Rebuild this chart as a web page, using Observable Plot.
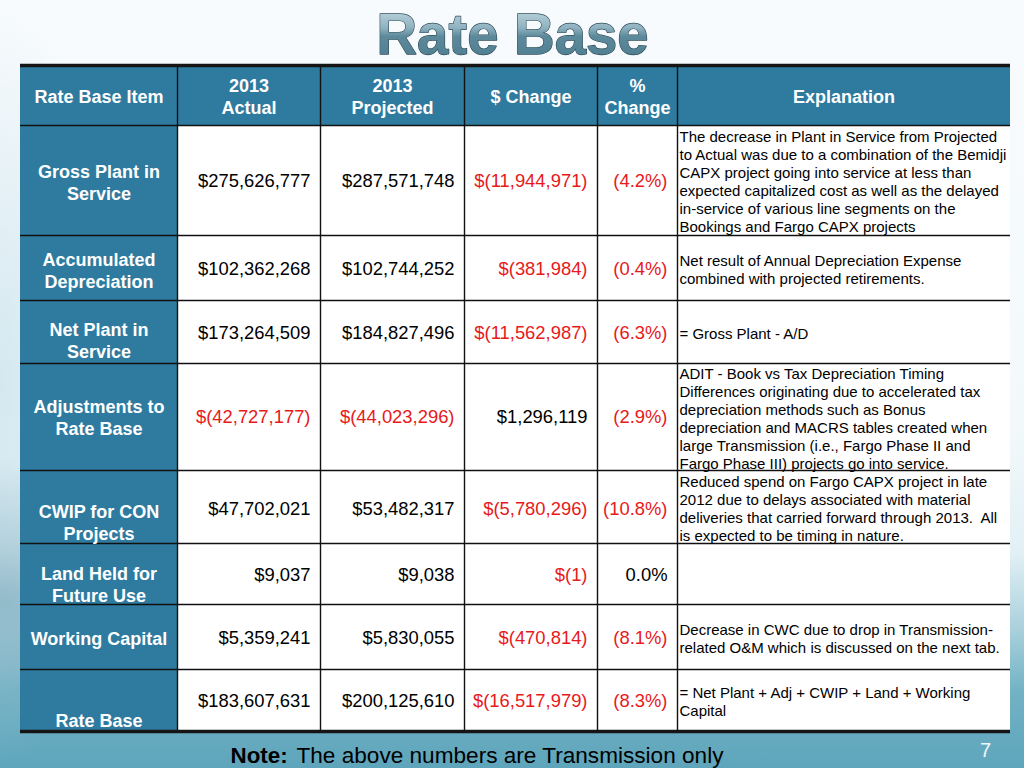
<!DOCTYPE html>
<html>
<head>
<meta charset="utf-8">
<script src="https://cdn.jsdelivr.net/npm/d3@7"></script>
<script src="https://cdn.jsdelivr.net/npm/@observablehq/plot@0.6"></script>
<style>
  html, body { margin: 0; padding: 0; }
  #slide {
    position: relative; width: 1024px; height: 768px; overflow: hidden;
    background:
      radial-gradient(ellipse 260px 140px at 0% 78%, rgba(110,160,180,0.55), rgba(110,160,180,0) 100%),
      radial-gradient(ellipse 120px 380px at 0% 50%, rgba(190,220,232,0.6), rgba(190,220,232,0) 100%),
      linear-gradient(to bottom, #f8fbfd 0%, #f3f9fb 55%, #e2f0f5 72%, #a9d0dc 82%, #72b2c5 90%, #5ea5bb 100%);
  }
  #slide svg { position: absolute; left: 0; top: 0; }
</style>
</head>
<body>
<div id="slide"></div>
<script>
// ---------- data ----------
const title = "Rate Base";
const headers = ["Rate Base Item", "2013\nActual", "2013\nProjected", "$ Change", "%\nChange", "Explanation"];
const items = ["Gross Plant in\nService", "Accumulated\nDepreciation", "Net Plant in\nService", "Adjustments to\nRate Base",
               "CWIP for CON\nProjects", "Land Held for\nFuture Use", "Working Capital", "Rate Base"];
const actual    = [275626777, 102362268, 173264509, -42727177, 47702021, 9037, 5359241, 183607631];
const projected = [287571748, 102744252, 184827496, -44023296, 53482317, 9038, 5830055, 200125610];
const change    = [-11944971, -381984, -11562987, 1296119, -5780296, -1, -470814, -16517979];
const pctChange = [-4.2, -0.4, -6.3, -2.9, -10.8, 0.0, -8.1, -8.3];
const explanations = [
  "The decrease in Plant in Service from Projected\nto Actual was due to a combination of the Bemidji\nCAPX project going into service at less than\nexpected capitalized cost as well as the delayed\nin-service of various line segments on the\nBookings and Fargo CAPX projects",
  "Net result of Annual Depreciation Expense\ncombined with projected retirements.",
  "= Gross Plant - A/D",
  "ADIT - Book vs Tax Depreciation Timing\nDifferences originating due to accelerated tax\ndepreciation methods such as Bonus\ndepreciation and MACRS tables created when\nlarge Transmission (i.e., Fargo Phase II and\nFargo Phase III) projects go into service.",
  "Reduced spend on Fargo CAPX project in late\n2012 due to delays associated with material\ndeliveries that carried forward through 2013.  All\nis expected to be timing in nature.",
  "",
  "Decrease in CWC due to drop in Transmission-\nrelated O&M which is discussed on the next tab.",
  "= Net Plant + Adj + CWIP + Land + Working\nCapital"
];
const noteLabel = "Note:";
const noteText = "The above numbers are Transmission only";
const pageNumber = "7";

// ---------- layout (positions in slide pixels) ----------
const colEdges = [20, 177, 320, 464, 597, 677, 1010];
const rowEdges = [65, 125, 235, 300, 363, 470, 543, 604, 669, 731];
const labelShift = [1, 1.5, 8, 0, 15, 10, 1, 19];
const valueShift = [1, 1.5, 1, 0, 2.5, 1.5, 1, 1];
const pad = 10;
const HEAD = "#2e7b9f", RED = "#e8191b", INK = "#111";

// ---------- derived tables ----------
const fmt = d3.format(",");
const money = v => v < 0 ? `$(${fmt(-v)})` : `$${fmt(v)}`;
const pct = v => v < 0 ? `(${(-v).toFixed(1)}%)` : `${v.toFixed(1)}%`;
const mid = r => (rowEdges[r] + rowEdges[r + 1]) / 2;

const headerCells = headers.map((h, c) => ({c, text: h}));
const rows = items.map((item, i) => ({i, r: i + 1, item, actual: actual[i], projected: projected[i],
  change: change[i], pct: pctChange[i], expl: explanations[i]}));
const bodyCells = rows.flatMap(d => d3.range(6).map(c => ({r: d.r, c})));

const valueCols = [
  {key: "actual", c: 1, f: money},
  {key: "projected", c: 2, f: money},
  {key: "change", c: 3, f: money},
  {key: "pct", c: 4, f: pct}
];
const values = rows.flatMap(d => valueCols.map(v => ({r: d.r, i: d.i, c: v.c, v: d[v.key], label: v.f(d[v.key])})));

const textBase = {fontFamily: "Liberation Sans, Arial, sans-serif"};

const chart = Plot.plot({
  width: 1024, height: 768, margin: 0,
  x: {domain: [0, 1024], range: [0, 1024], axis: null},
  y: {domain: [0, 768], range: [0, 768], axis: null},
  style: {background: "transparent", fontFamily: "Liberation Sans, Arial, sans-serif"},
  marks: [
    // cells
    Plot.rect(headerCells, {x1: d => colEdges[d.c], x2: d => colEdges[d.c + 1], y1: rowEdges[0], y2: rowEdges[1], fill: HEAD}),
    Plot.rect(bodyCells.filter(d => d.c === 0), {x1: d => colEdges[d.c], x2: d => colEdges[d.c + 1], y1: d => rowEdges[d.r], y2: d => rowEdges[d.r + 1], fill: HEAD}),
    Plot.rect(bodyCells.filter(d => d.c > 0), {x1: d => colEdges[d.c], x2: d => colEdges[d.c + 1], y1: d => rowEdges[d.r], y2: d => rowEdges[d.r + 1], fill: "white"}),
    // grid lines
    Plot.ruleY(rowEdges.slice(1, -1), {x1: colEdges[0], x2: colEdges[6], stroke: INK, strokeWidth: 1.6}),
    Plot.ruleX(colEdges.slice(1, -1), {y1: rowEdges[0], y2: rowEdges[rowEdges.length - 1], stroke: INK, strokeWidth: 1.4}),
    Plot.ruleY([rowEdges[0], rowEdges[rowEdges.length - 1]], {x1: colEdges[0], x2: colEdges[6], stroke: "#151515", strokeWidth: 3.5}),
    // header text
    Plot.text(headerCells, {x: d => (colEdges[d.c] + colEdges[d.c + 1]) / 2, y: mid(0), text: "text",
      fill: "white", fontWeight: "bold", fontSize: 18, lineHeight: 1.22, ...textBase}),
    // row labels
    Plot.text(rows, {x: (colEdges[0] + colEdges[1]) / 2, y: d => mid(d.r) + labelShift[d.i], text: "item",
      fill: "white", fontWeight: "bold", fontSize: 18, lineHeight: 1.22, ...textBase}),
    // values
    Plot.text(values.filter(d => d.v < 0), {x: d => colEdges[d.c + 1] - pad, y: d => mid(d.r) + valueShift[d.i], text: "label",
      textAnchor: "end", fill: RED, fontSize: 18.4, ...textBase}),
    Plot.text(values.filter(d => d.v >= 0), {x: d => colEdges[d.c + 1] - pad, y: d => mid(d.r) + valueShift[d.i], text: "label",
      textAnchor: "end", fill: "black", fontSize: 18.4, ...textBase}),
    // explanations
    Plot.text(rows, {x: colEdges[5] + 2, y: d => mid(d.r) + 1, text: "expl", textAnchor: "start",
      fill: "black", fontSize: 15, lineHeight: 1.2, ...textBase}),
    // title
    Plot.text([title], {x: 512, y: 34.5, text: d => d, fontSize: 58, fontWeight: "bold",
      fill: "url(#titleGrad)", stroke: "#2f4c59", strokeWidth: 1.3, ...textBase}),
    // note
    Plot.text([noteLabel], {x: 230, y: 755, text: d => d, textAnchor: "start", fontWeight: "bold", fontSize: 22.4, fill: "black", ...textBase}),
    Plot.text([noteText], {x: 296, y: 755, text: d => d, textAnchor: "start", fontSize: 22.6, fill: "black", ...textBase}),
    Plot.text([pageNumber], {x: 985, y: 750, text: d => d, fontSize: 20, fill: "#eef7fa", ...textBase})
  ]
});

const svg = d3.select(chart);
svg.insert("defs", ":first-child").html(`
  <linearGradient id="titleGrad" x1="0" y1="0" x2="0" y2="1">
    <stop offset="0%" stop-color="#d2e5ec"/>
    <stop offset="42%" stop-color="#8fb2c0"/>
    <stop offset="55%" stop-color="#5d8a9b"/>
    <stop offset="100%" stop-color="#4a7a8d"/>
  </linearGradient>`);
svg.selectAll('g[font-size="58"] text')
  .attr("textLength", 272).attr("lengthAdjust", "spacingAndGlyphs");

document.getElementById("slide").appendChild(chart);
</script>
</body>
</html>
